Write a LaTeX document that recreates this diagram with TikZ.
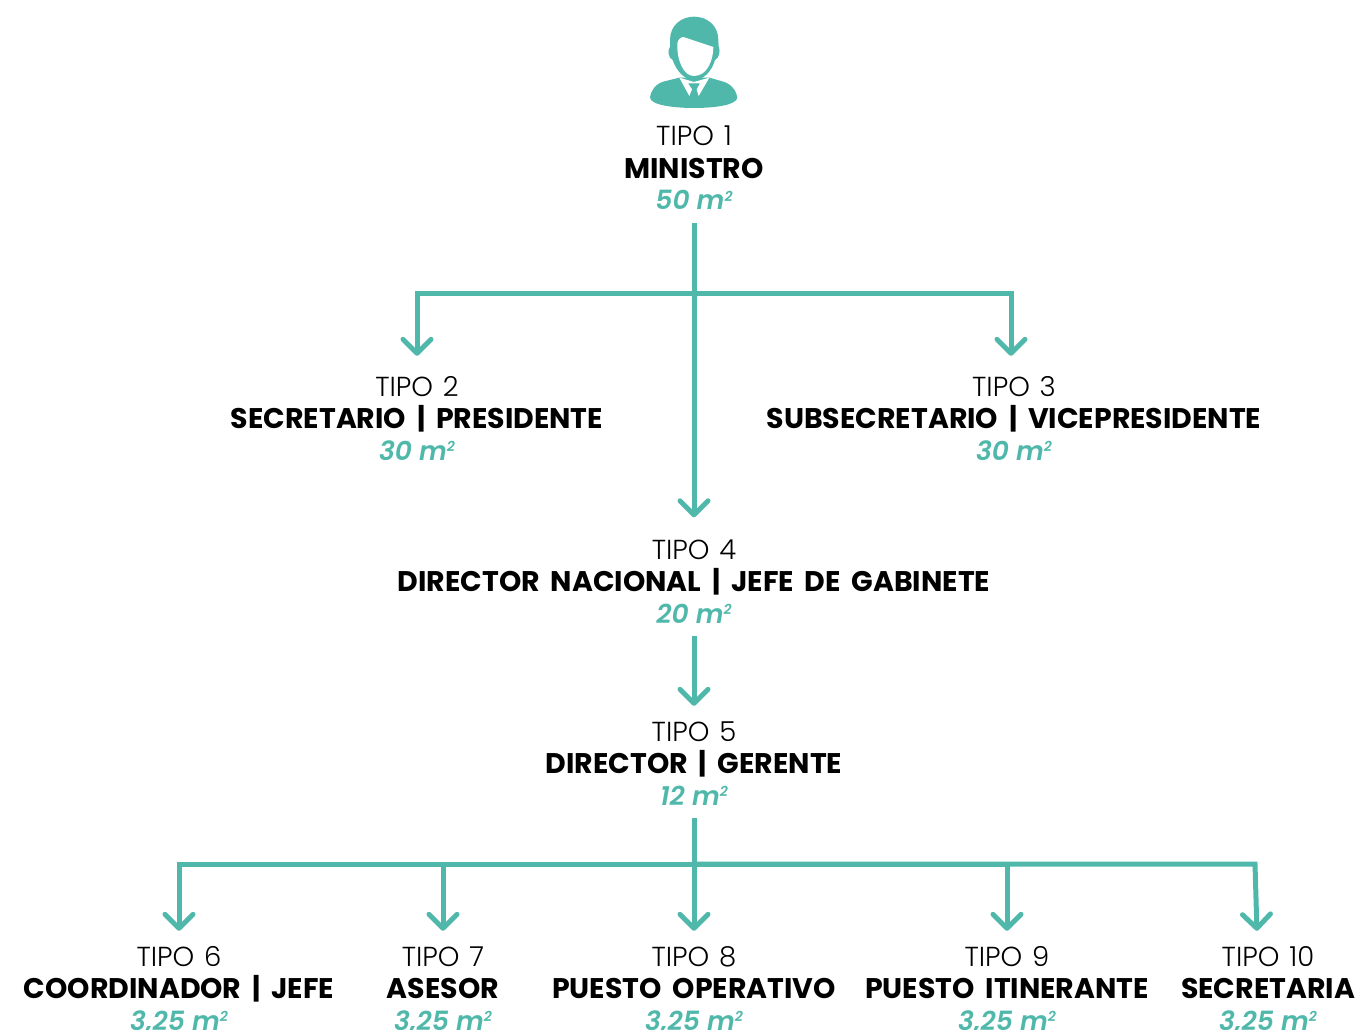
\documentclass[tikz,border=0pt]{standalone}
\usepackage{fontspec}
\setmainfont{Poppins}
\newfontfamily\lightf[WordSpace=1.3]{Poppins Light}
\newfontfamily\boldf[WordSpace=1.8]{Poppins Bold}
\newfontfamily\medf{Poppins SemiBold Italic}
\usetikzlibrary{arrows.meta,calc}
\definecolor{teal}{RGB}{80,184,170}
\newcommand{\lineprop}{\rule[-6pt]{0pt}{32pt}}
\newcommand{\tipo}[3]{\lineprop{\fontsize{27.5}{32}\lightf #1}\\\lineprop{\fontsize{28.4}{32}\boldf #2}\\\lineprop{\fontsize{26.5}{32}\selectfont\medf\color{teal} #3 m\raisebox{9pt}{\fontsize{14}{14}\selectfont 2}}}
\tikzset{
 box/.style={align=center,inner sep=0pt,minimum height=110pt,text=black,font=\fontsize{27}{32}\selectfont},
 conn/.style={draw=teal,line width=5pt},
 arr/.style={conn,-{Straight Barb[length=14pt,width=28pt,round,line width=5pt]}},
}
\begin{document}
\begin{tikzpicture}[x=1pt,y=-1pt]
\useasboundingbox (0,0) rectangle (1361,1030);
\begin{scope}[shift={(620,0)},x=0.3333pt,y=-0.3333pt,fill=teal]
\fill (150,120) .. controls (150,75) and (185,50) .. (222,50) .. controls (260,50) and (295,75) .. (295,120) -- (296,140) .. controls (302,150) and (298,175) .. (285,180) .. controls (275,215) and (250,240) .. (222,240) .. controls (195,240) and (170,215) .. (158,180) .. controls (145,175) and (142,150) .. (150,140) -- cycle;
\fill[white] (190,111) -- (280,141) .. controls (280,180) and (262,228) .. (222,228) .. controls (190,228) and (170,180) .. (172,130) .. controls (174,120) and (180,112) .. (190,111) -- cycle;
\fill (178,233) -- (130,245) .. controls (105,252) and (92,275) .. (90,292) .. controls (90,315) and (160,324) .. (222,324) .. controls (285,324) and (352,315) .. (352,292) .. controls (350,275) and (335,252) .. (310,245) -- (268,233) -- cycle;
\fill[white] (178,233) -- (208,288) -- (216,268) -- (204,250) -- (240,250) -- (230,268) -- (236,288) -- (268,233) -- (222,246) -- cycle;
\fill (210,252) -- (234,252) -- (228,268) -- (234,294) -- (212,294) -- (218,268) -- cycle;
\end{scope}
\node[box] (t1) at (694,168) {\tipo{TIPO 1}{MINISTRO}{50}};
\node[box] (t2) at (417,418) {\tipo{TIPO 2}{SECRETARIO | PRESIDENTE}{30}};
\node[box] (t3) at (1014,418) {\tipo{TIPO 3}{SUBSECRETARIO | VICEPRESIDENTE}{30}};
\node[box] (t4) at (694,581) {\tipo{TIPO 4}{DIRECTOR NACIONAL | JEFE DE GABINETE}{20}};
\node[box] (t5) at (694,763) {\tipo{TIPO 5}{DIRECTOR | GERENTE}{12}};
\node[box] (t6) at (179,988) {\tipo{TIPO 6}{COORDINADOR | JEFE}{3,25}};
\node[box] (t7) at (443,988) {\tipo{TIPO 7}{ASESOR}{3,25}};
\node[box] (t8) at (694,988) {\tipo{TIPO 8}{PUESTO OPERATIVO}{3,25}};
\node[box] (t9) at (1007,988) {\tipo{TIPO 9}{PUESTO ITINERANTE}{3,25}};
\node[box] (t10) at (1268,988) {\tipo{TIPO 10}{SECRETARIA}{3,25}};
\coordinate (j1) at (694,293);
\coordinate (j2) at (694,864);
\coordinate (e3) at (1011,293);
\coordinate (e10) at (1255,864);
\coordinate (a10) at (1257,930);
\draw[arr,shorten >=8.5pt] (t1.south) -- (t4.north);
\draw[arr,shorten >=7pt] (j1) -| (t2.north);
\draw[arr,shorten >=7pt] (j1) -- (e3) -- (e3 |- t3.north);
\draw[arr,shorten >=2pt] (t4.south) -- (t5.north);
\draw[conn] (t5.south) -- (j2);
\draw[arr,shorten >=2pt] (j2) -- (t8.north);
\draw[arr,shorten >=2pt] (j2) -| (t6.north);
\draw[arr,shorten >=2pt] (j2) -| (t7.north);
\draw[arr,shorten >=2pt] (j2) -| (t9.north);
\draw[arr,shorten >=2pt] (j2) -- (e10) -- (a10 |- t10.north);
\end{tikzpicture}
\end{document}
